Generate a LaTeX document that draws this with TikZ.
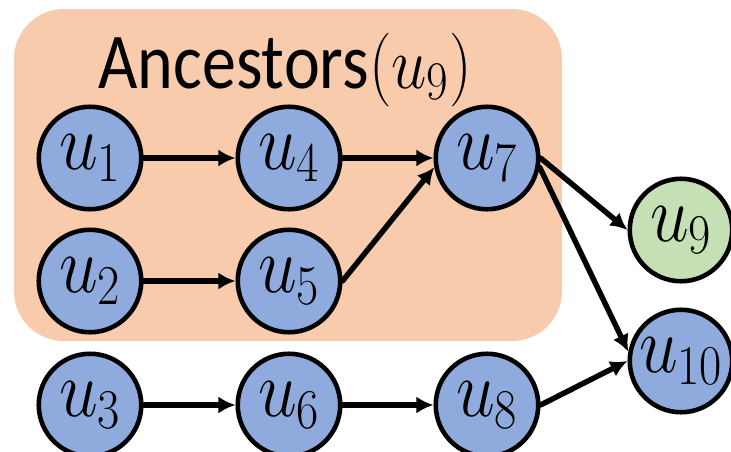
\RequirePackage{fix-cm}
\documentclass[tikz,border=0pt]{standalone}
\usepackage{fontspec}
\newfontfamily\calibri{Carlito}
\usetikzlibrary{arrows.meta}
\definecolor{ancorange}{HTML}{F8CBAD}
\definecolor{nodeblue}{HTML}{8FAADC}
\definecolor{nodegreen}{HTML}{C5E0B4}
\DeclareMathSizes{46}{46}{32}{24}
\DeclareMathSizes{45}{42}{31}{23}
\newcommand{\uname}[1]{\makebox[0pt]{\scalebox{0.86}[1]{$u_{#1}$}}}

\begin{document}
\begin{tikzpicture}[x=0.02cm,y=-0.02cm,line cap=round,line join=round,
  vtx/.style={circle,draw=black,line width=2.6pt,fill=nodeblue,minimum size=2.05cm,
    inner sep=0pt,font={\fontsize{46}{52}\selectfont}},
  target/.style={vtx,fill=nodegreen},
  edge/.style={line width=3.1pt,-{Latex[length=0.34cm,width=0.34cm]}}]
  \useasboundingbox (0,0) rectangle (731,451);
  % ancestor set
  \fill[ancorange,rounded corners=1cm] (14,9) rectangle (562,341);
  \node[anchor=base,inner sep=0pt] (title) at (285,88)
    {\scalebox{0.86}[1]{\fontsize{45}{54}\selectfont\calibri Ancestors$(u_9)$}};
  % vertices
  \node[vtx] (u1) at (90,158) {\uname{1}};
  \node[vtx] (u4) at (289,158) {\uname{4}};
  \node[vtx] (u7) at (487,158) {\uname{7}};
  \node[vtx] (u2) at (90,281) {\uname{2}};
  \node[vtx] (u5) at (289,281) {\uname{5}};
  \node[vtx] (u3) at (90,405) {\uname{3}};
  \node[vtx] (u6) at (289,405) {\uname{6}};
  \node[vtx] (u8) at (487,405) {\uname{8}};
  \node[target] (u9) at (681,230) {\uname{9}};
  \node[vtx] (u10) at (681,361) {\uname{10}};
  % edges
  \draw[edge] (u1) -- (u4);
  \draw[edge] (u4) -- (u7);
  \draw[edge] (u2) -- (u5);
  \draw[edge] (u5.east) -- (u7.190);
  \draw[edge] (u7.east) -- (u9.west);
  \draw[edge] (u7.-10) -- (u10.170);
  \draw[edge] (u3) -- (u6);
  \draw[edge] (u6) -- (u8);
  \draw[edge] (u8.east) -- (u10.west);
\end{tikzpicture}
\end{document}
